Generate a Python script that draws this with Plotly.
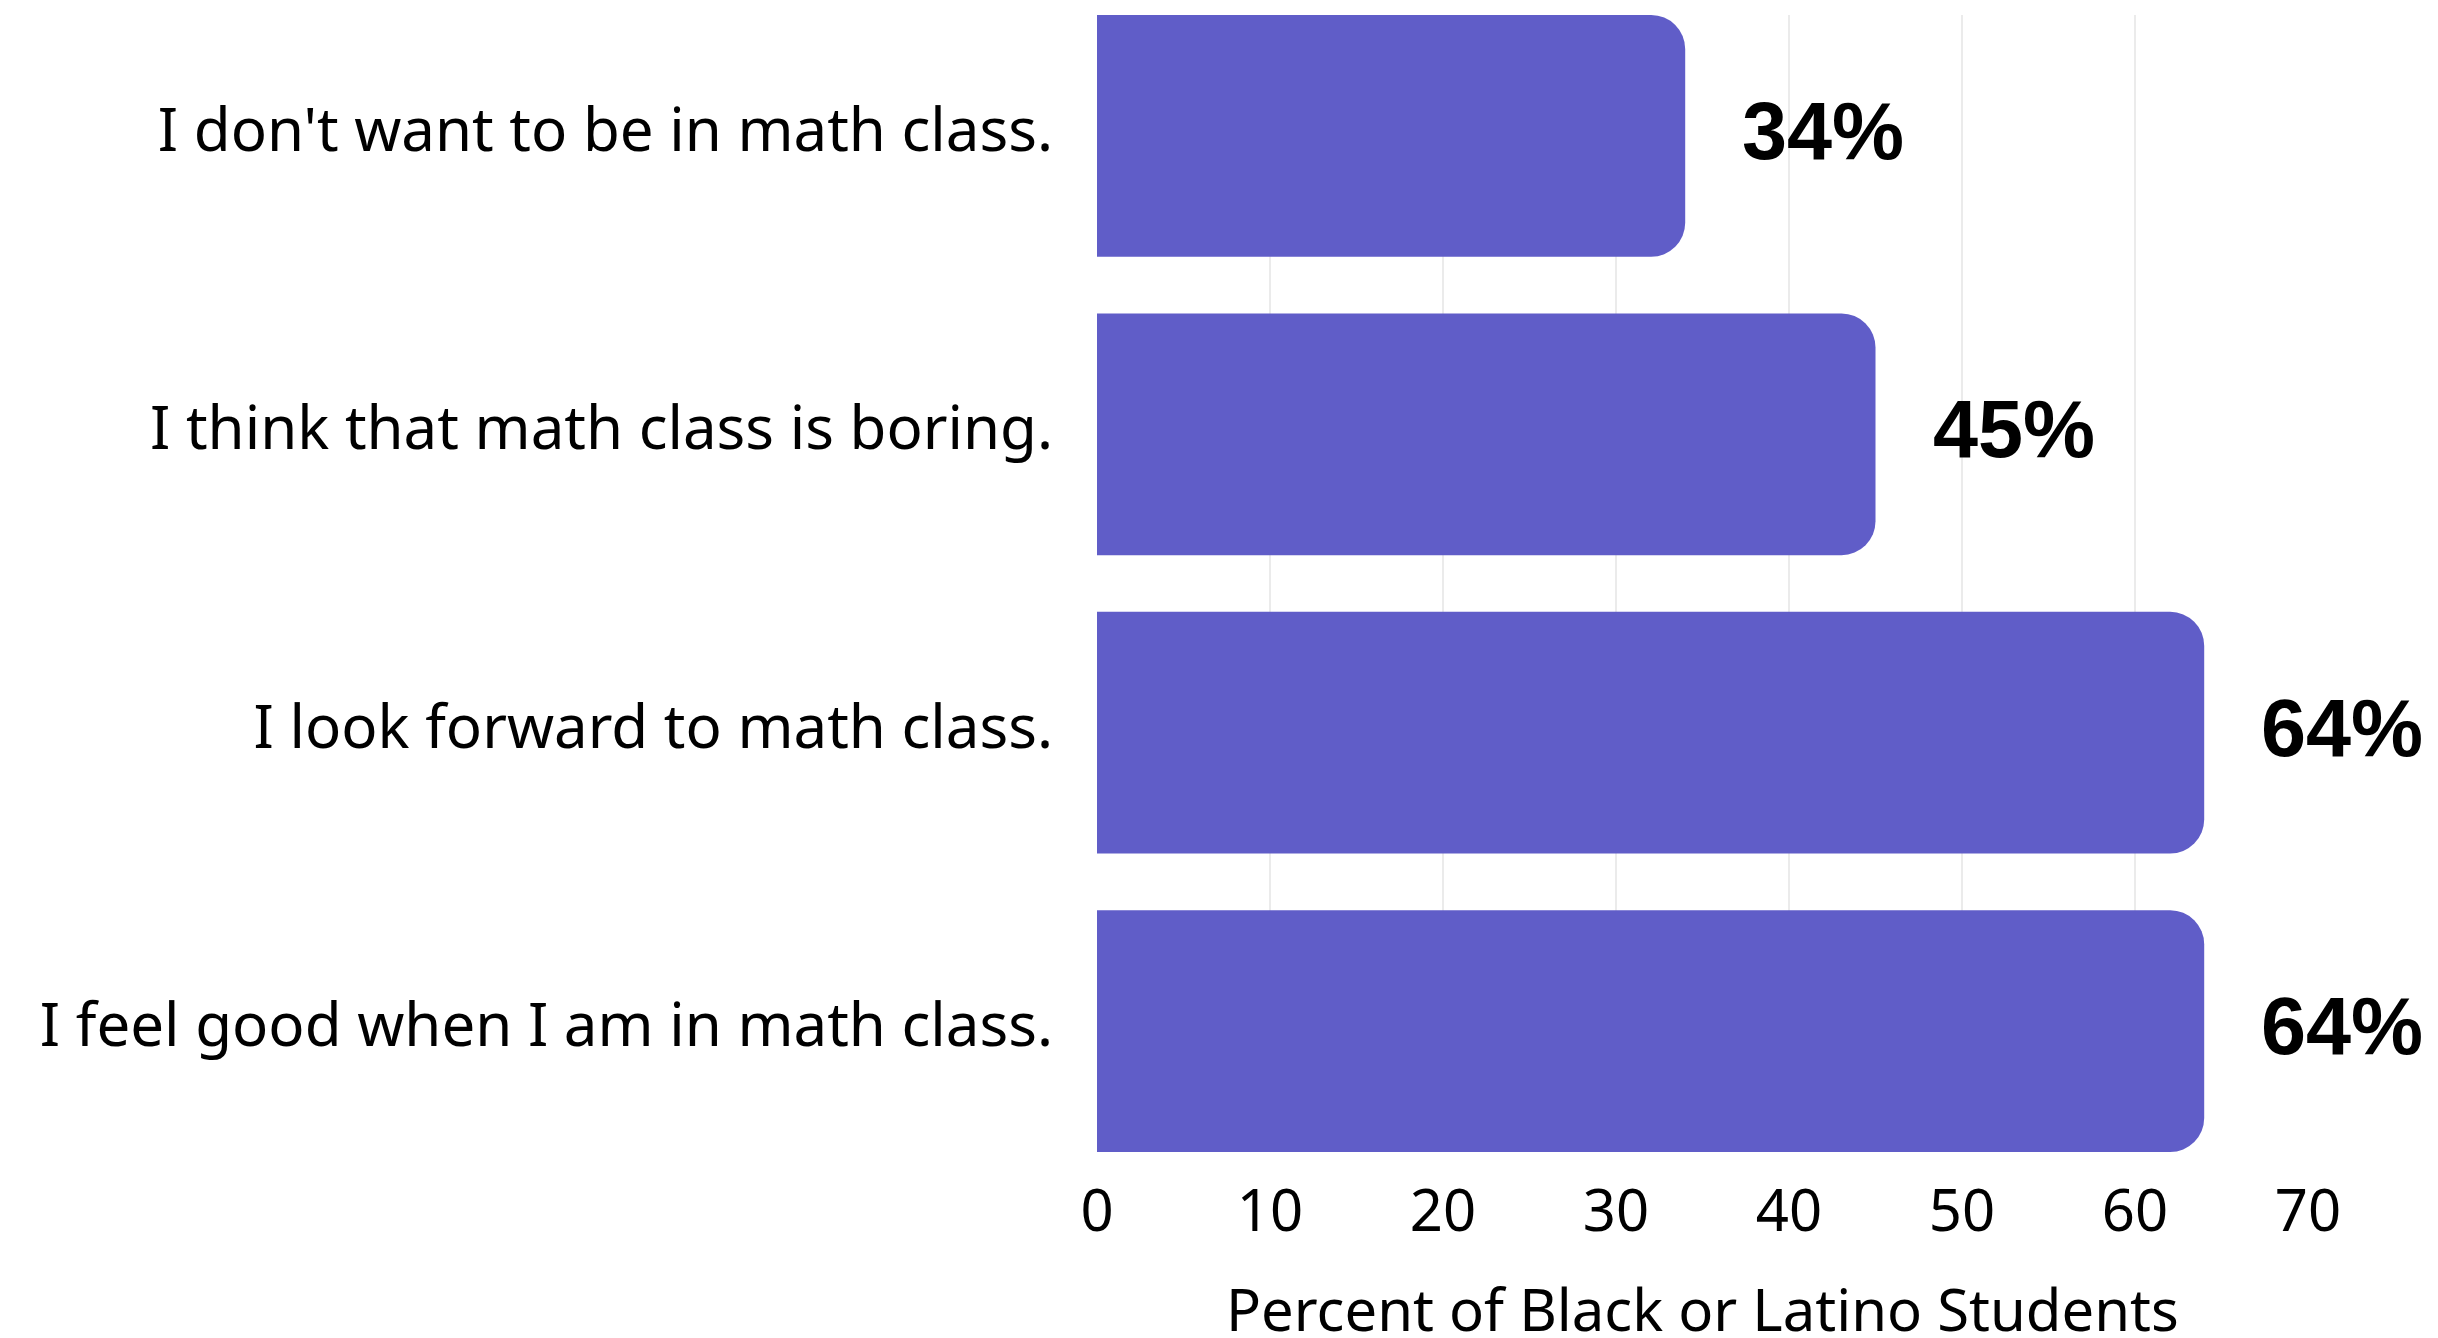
import plotly.graph_objects as go

categories = [
    "I feel good when I am in math class.",
    "I look forward to math class.",
    "I think that math class is boring.",
    "I don't want to be in math class.",
]
values = [64, 64, 45, 34]
labels = ["64%", "64%", "45%", "34%"]
x_ticks = [0, 10, 20, 30, 40, 50, 60, 70]
x_title = "Percent of Black or Latino Students"

pos = list(range(len(categories)))

fig = go.Figure()
fig.add_trace(go.Bar(
    x=values, y=pos, orientation="h",
    width=0.81,
    marker=dict(color="#605DC8", line=dict(width=0)),
    hoverinfo="skip",
))

for v, p, t in zip(values, pos, labels):
    fig.add_annotation(
        x=v, y=p, text=t, showarrow=False,
        xanchor="left", yanchor="middle", xshift=55, yshift=5,
        font=dict(family="Liberation Sans, Arial, sans-serif", size=81,
                  color="#000000", weight="bold"),
    )

fig.add_annotation(
    x=0.5, y=0, xref="paper", yref="paper", text=x_title, showarrow=False,
    xanchor="center", yanchor="middle", yshift=-156,
    font=dict(size=58, family="Noto Sans, Open Sans, sans-serif", color="#000000"),
)

fig.update_layout(
    width=2430, height=1330,
    margin=dict(l=1089, r=130, t=7, b=186),
    paper_bgcolor="white", plot_bgcolor="white",
    barcornerradius=34,
    showlegend=False,
    font=dict(family="Noto Sans, Open Sans, sans-serif", color="#000000"),
    xaxis=dict(
        range=[0, 70], tickvals=x_ticks, automargin=False,
        showgrid=True, gridcolor="#ebebeb", gridwidth=2,
        zeroline=False, showline=False,
        tickfont=dict(size=58, family="Noto Sans, Open Sans, sans-serif"),
        ticks="outside", ticklen=8, tickcolor="rgba(0,0,0,0)",
    ),
    yaxis=dict(
        range=[-0.405, 3.405], automargin=False,
        tickvals=pos, ticktext=categories,
        showgrid=False, zeroline=False, showline=False,
        tickfont=dict(size=60, family="Noto Sans, Open Sans, sans-serif"),
        ticks="outside", ticklen=31, tickcolor="rgba(0,0,0,0)",
        ticklabelshift=-6,
    ),
)

fig.write_html("out.html")
